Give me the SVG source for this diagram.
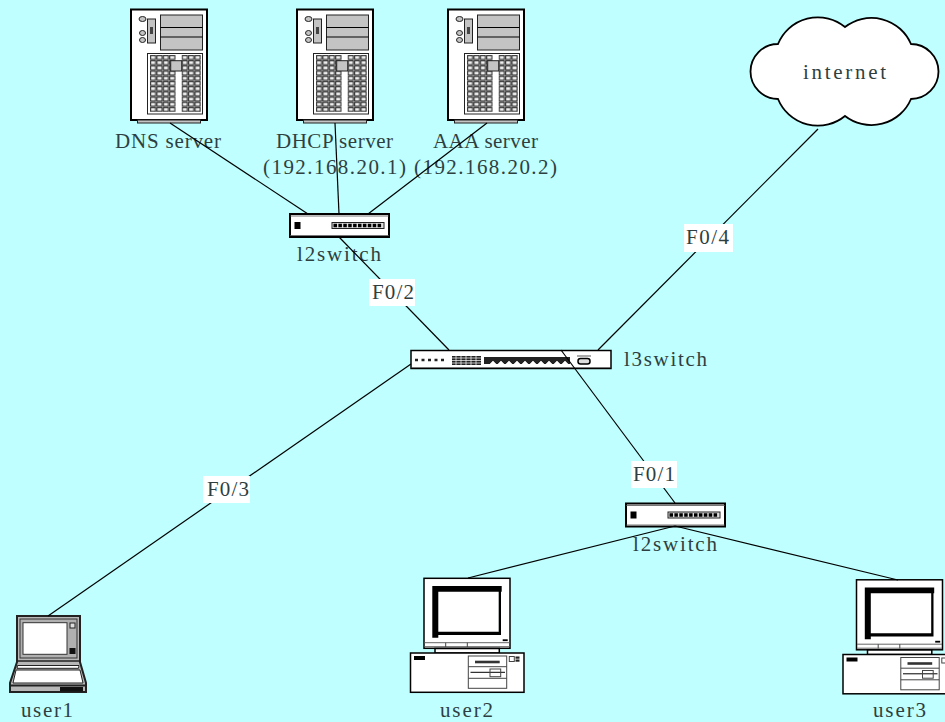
<svg xmlns="http://www.w3.org/2000/svg" width="945" height="722" viewBox="0 0 945 722">
<style>
text{font-family:"Liberation Serif","Noto Sans CJK SC",serif;font-size:21px;fill:#2f3f3f}
.k{stroke:#000;fill:none}
.g{stroke:#222;fill:#c4c4c4}
.conn line{stroke:#000;stroke-width:1.2}
.lab{fill:#fff}
</style>
<defs>
<pattern id="ports" width="6.4" height="5.2" patternUnits="userSpaceOnUse" x="0" y="0">
<rect x=".6" y=".6" width="5" height="3.8" fill="#eee" stroke="#222" stroke-width="1"/>
</pattern>
<g id="server">
<rect x="1" y="9.500" width="76" height="110.500" fill="#fff" stroke="#000" stroke-width="2"/>
<rect x="7.500" y="120" width="63" height="3" class="g" stroke-width="1"/>
<rect x="30.500" y="15" width="42" height="35" class="g" stroke-width="1"/>
<path d="M30.500 27.500H72.500M30.500 37H72.500" class="k"/>
<ellipse cx="12.500" cy="19" rx="3.500" ry="2.500" class="g"/>
<ellipse cx="12.500" cy="33" rx="3" ry="2.500" class="g"/>
<ellipse cx="12.500" cy="40" rx="3" ry="2.500" class="g"/>
<rect x="17.500" y="19" width="8" height="24" class="g"/>
<rect x="20" y="27" width="3" height="7" fill="#444"/>
<rect x="17.500" y="53.500" width="55" height="60.500" fill="#fff" stroke="#222"/>
<g transform="translate(20,55)"><rect width="25.600" height="57" fill="url(#ports)"/></g>
<g transform="translate(51.700,55)"><rect width="19.200" height="57" fill="url(#ports)"/></g>
<rect x="40.700" y="60.700" width="11" height="10.300" class="g"/>
</g>
<g id="sw">
<rect x="0.500" y="0.500" width="99" height="23" fill="#fff" stroke="#000" stroke-width="2"/>
<path d="M1 2.500H99" stroke="#777" stroke-width="1"/>
<path d="M1 22H99" stroke="#777" stroke-width="1"/>
<rect x="5" y="8.500" width="6" height="7" fill="#000"/>
<rect x="42.500" y="9" width="52" height="6" fill="#ddd" stroke="#222"/>
<path d="M44 12H93" stroke="#000" stroke-width="3.500" stroke-dasharray="3.500 1.400"/>
</g>
<g id="pc">
<rect x="14" y="8.300" width="86" height="70" fill="#fff" stroke="#000" stroke-width="1.500"/>
<path d="M14.500 72.700H99.500M14.500 76.700H99.500" stroke="#666"/>
<path d="M35.700 72.700V77M57.300 72.700V77" stroke="#444"/>
<path fill-rule="evenodd" d="M22.300 16H91.700V21.700H91V65H28.300V67.700H22.300ZM28.300 21.700V61.700H88.700V21.700Z" fill="#000"/>
<rect x="92.700" y="69.300" width="5" height="1.800" fill="#000"/>
<rect x="25" y="78.500" width="64.300" height="4.500" fill="#fff" stroke="#000" stroke-width="1.500"/>
<rect x="0.500" y="83" width="113.500" height="39.300" fill="#fff" stroke="#000" stroke-width="1.500"/>
<rect x="4" y="86" width="11" height="4" fill="#000"/>
<rect x="58.300" y="86" width="38.400" height="32.300" fill="#fff" stroke="#444"/>
<path d="M58.300 96.700H96.700M58.300 108.300H96.700" stroke="#444"/>
<rect x="65" y="90.700" width="24.700" height="2.600" fill="#333"/>
<path d="M60.500 102.300H95" stroke="#000"/>
<rect x="80" y="99" width="10.700" height="7.700" fill="none" stroke="#444"/>
<rect x="99.300" y="86.500" width="5" height="5" fill="#fff" stroke="#444"/>
<rect x="105.500" y="86.500" width="4" height="2.200" fill="#222"/>
<rect x="105.500" y="89.500" width="4" height="2.200" fill="#222"/>
</g>
</defs>
<rect width="945" height="722" fill="#bfffff"/>

<g id="dns-server"><use href="#server" x="130" y="0"/><text x="115" y="148" textLength="106">DNS server</text></g>
<g id="dhcp-server"><use href="#server" x="296" y="0"/><text x="276" y="148" textLength="117">DHCP server</text><text x="263" y="174" textLength="143">(192.168.20.1)</text></g>
<g id="aaa-server"><use href="#server" x="447" y="0"/><text x="433" y="148" textLength="105">AAA server</text><text x="414" y="174" textLength="143">(192.168.20.2)</text></g>

<g id="internet">
<path d="M845 27A43 43 0 0 0 778 44A27.500 27.500 0 0 0 778 99A43 43 0 0 0 845 116A43 43 0 0 0 911 99A27.500 27.500 0 0 0 911 44A43 43 0 0 0 845 27Z" fill="#fff" stroke="#000" stroke-width="1.800"/>
<text x="803" y="79" textLength="83">internet</text>
</g>

<g id="l2switch-top"><use href="#sw" x="289.500" y="213.500"/><text x="297" y="261" textLength="84">l2switch</text></g>

<g id="l3switch">
<rect x="411" y="350.500" width="200" height="18" fill="#fff" stroke="#000" stroke-width="1.500"/>
<path d="M412 367.500H610" stroke="#777"/>
<path d="M415 360H444" stroke="#222" stroke-width="2.500" stroke-dasharray="3 3.500"/>
<rect x="452" y="356" width="29" height="9" fill="#222"/>
<path d="M452 358H481M452 360.500H481M452 363H481M456 356V365M461 356V365M466 356V365M471 356V365M476 356V365" stroke="#fff" stroke-width=".7"/>
<rect x="484" y="357" width="86" height="7" fill="#222"/>
<path d="M490 364L493 361L496 364M498 364L501 361L504 364M506 364L509 361L512 364M514 364L517 361L520 364M522 364L525 361L528 364M530 364L533 361L536 364M538 364L541 361L544 364M546 364L549 361L552 364M554 364L557 361L560 364M562 364L565 361L568 364" fill="#fff" stroke="#fff" stroke-width=".6"/>
<rect x="578" y="358.500" width="12" height="5.500" rx="2.500" fill="#ddd" stroke="#000" stroke-width="1.500"/>
<rect x="577" y="355.500" width="14" height="1" fill="#555"/>
<text x="624" y="366" textLength="83">l3switch</text>
</g>

<g id="l2switch-bottom"><use href="#sw" x="625.500" y="503"/><text x="633" y="551" textLength="84">l2switch</text></g>

<g id="user1">
<path d="M17 616H80V662L86 683V692H10V683L17 662Z" fill="#b8b8b8" stroke="#222" stroke-width="2"/>
<rect x="20" y="619" width="57" height="39" fill="#b0b0b0" stroke="#333"/>
<rect x="23" y="622.700" width="44" height="31.600" fill="#fff" stroke="#333"/>
<rect x="70" y="623" width="5" height="5" fill="#ddd" stroke="#222"/>
<rect x="69.500" y="648" width="6" height="6" fill="#111"/>
<path d="M17 661H80" stroke="#222" stroke-width="1.500"/>
<path d="M17.500 665.500H79L78.500 668.300H17Z" fill="#fff" stroke="#222"/>
<path d="M16 670H80L83 683H13Z" fill="#fff" stroke="#222"/>
<path d="M10 685.500H86" stroke="#222" stroke-width="2"/>
<rect x="60" y="687" width="23" height="4.500" fill="#111"/>
<text x="21" y="717" textLength="52">user1</text>
</g>

<g id="user2"><use href="#pc" x="410" y="570"/><text x="440" y="717" textLength="53">user2</text></g>
<g id="user3"><use href="#pc" x="842.500" y="571.500"/><text x="873" y="717" textLength="53">user3</text></g>

<g id="connectors" class="conn">
<line x1="170" y1="123" x2="308" y2="214"/>
<line x1="335" y1="123" x2="339" y2="214"/>
<line x1="487" y1="123" x2="368" y2="214"/>
<line x1="339" y1="237" x2="449" y2="350"/>
<line x1="818" y1="129" x2="598" y2="350"/>
<line x1="411" y1="364" x2="48" y2="616"/>
<line x1="561" y1="350" x2="675" y2="503"/>
<line x1="675" y1="526" x2="468" y2="578"/>
<line x1="675" y1="526" x2="898" y2="580"/>
<rect class="lab" x="369" y="279" width="46" height="27"/><text x="372" y="299" textLength="42">F0/2</text>
<rect class="lab" x="684" y="224" width="49" height="28"/><text x="686" y="244" textLength="43">F0/4</text>
<rect class="lab" x="203" y="476" width="47" height="27"/><text x="207" y="496" textLength="42">F0/3</text>
<rect class="lab" x="631" y="461" width="46" height="27"/><text x="633" y="481" textLength="42">F0/1</text>
</g>
</svg>
